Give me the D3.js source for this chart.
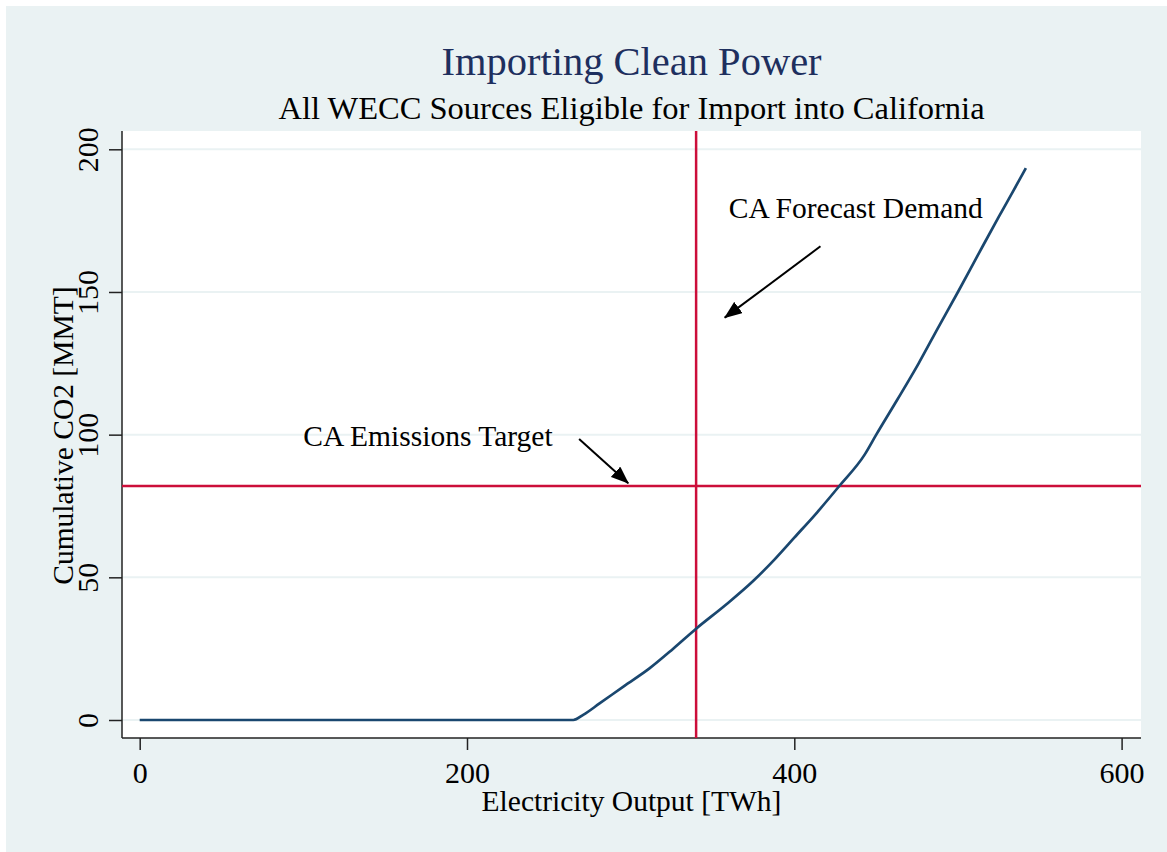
<!DOCTYPE html>
<html>
<head>
<meta charset="utf-8">
<script src="https://cdn.jsdelivr.net/npm/d3@7"></script>
<style>
  body { margin: 0; background: #fff; }
  text { font-family: "Liberation Serif", "Times New Roman", serif; }
</style>
</head>
<body>
<svg id="chart" width="1167" height="852"></svg>
<script>
// supply curve
const outputTWh = [0, 265, 271, 281, 296, 311.5, 326, 340, 358, 375, 388, 400, 414, 427.5, 443, 450, 463, 476, 488, 500, 513, 525, 534, 541.5];
const co2MMT    = [0, 0, 1.8, 5.8, 11.9, 18.1, 25, 32, 40.3, 48.8, 56.3, 63.9, 72.8, 82, 93, 99.9, 112.3, 125, 137.6, 150, 163.8, 176.4, 185.6, 193.4];

const xTicks = [0, 200, 400, 600];
const yTicks = [0, 50, 100, 150, 200];

const targetCO2 = 82;     // CA emissions target
const demandTWh = 340;    // CA forecast demand

// annotation text and arrows, in data units
const noteLabels = ['CA Forecast Demand', 'CA Emissions Target'];
const noteTextX  = [360, 100];
const noteTextY  = [176, 96];
const arrowFrom  = [[416, 166], [268.5, 98.5]];
const arrowTo    = [[357.5, 141], [298.5, 83]];

const W = 1167, H = 852;
const plot = { left: 122, right: 1141, top: 131, bottom: 738 };

const svg = d3.select('#chart');

// outer background
svg.append('rect')
    .attr('x', 6).attr('y', 6)
    .attr('width', W - 6).attr('height', H - 6)
    .attr('fill', '#eaf2f3');

// plot region
svg.append('rect')
    .attr('x', plot.left).attr('y', plot.top)
    .attr('width', plot.right - plot.left).attr('height', plot.bottom - plot.top)
    .attr('fill', '#fff');

const x = d3.scaleLinear().domain([0, 600]).range([139.7, 1121.6]);
const y = d3.scaleLinear().domain([0, 200]).range([720, 149.3]);

// horizontal grid
svg.append('g').selectAll('line')
    .data(yTicks)
    .enter().append('line')
    .attr('x1', plot.left).attr('x2', plot.right)
    .attr('y1', d => y(d)).attr('y2', d => y(d))
    .attr('stroke', '#eaf2f3')
    .attr('stroke-width', 2);

// y axis
const yAxis = svg.append('g')
    .attr('transform', `translate(${plot.left},0)`)
    .call(d3.axisLeft(y).tickValues(yTicks).tickSize(13).tickSizeOuter(0));
yAxis.select('.domain').remove();
yAxis.selectAll('line').attr('stroke', '#222').attr('stroke-width', 1.5);
yAxis.selectAll('text')
    .attr('x', null).attr('dy', null)
    .attr('text-anchor', 'middle')
    .attr('transform', 'translate(-24,0) rotate(-90)')
    .attr('font-size', 30)
    .attr('fill', '#000');

// x axis
const xAxis = svg.append('g')
    .attr('transform', `translate(0,${plot.bottom})`)
    .call(d3.axisBottom(x).tickValues(xTicks).tickSize(12).tickSizeOuter(0));
xAxis.select('.domain').remove();
xAxis.selectAll('line').attr('stroke', '#222').attr('stroke-width', 1.5);
xAxis.selectAll('text')
    .attr('y', 45).attr('dy', null)
    .attr('font-size', 30)
    .attr('fill', '#000');

// axis lines
svg.append('line')
    .attr('x1', plot.left).attr('x2', plot.left)
    .attr('y1', plot.top).attr('y2', plot.bottom)
    .attr('stroke', '#222').attr('stroke-width', 1.5);
svg.append('line')
    .attr('x1', plot.left).attr('x2', plot.right)
    .attr('y1', plot.bottom).attr('y2', plot.bottom)
    .attr('stroke', '#222').attr('stroke-width', 1.5);

// reference lines
svg.append('line')
    .attr('x1', plot.left).attr('x2', plot.right)
    .attr('y1', y(targetCO2)).attr('y2', y(targetCO2))
    .attr('stroke', '#cc0e3a').attr('stroke-width', 2.5);
svg.append('line')
    .attr('x1', x(demandTWh)).attr('x2', x(demandTWh))
    .attr('y1', plot.top).attr('y2', plot.bottom)
    .attr('stroke', '#cc0e3a').attr('stroke-width', 2.5);

// curve
const pts = outputTWh.map((d, i) => [d, co2MMT[i]]);
const line = d3.line()
    .x(d => x(d[0]))
    .y(d => y(d[1]))
    .curve(d3.curveMonotoneX);
svg.append('path')
    .datum(pts)
    .attr('d', line)
    .attr('fill', 'none')
    .attr('stroke', '#1a476f')
    .attr('stroke-width', 2.7)
    .attr('stroke-linejoin', 'round');

// arrows
svg.append('defs').append('marker')
    .attr('id', 'head')
    .attr('viewBox', '0 -7 18 14')
    .attr('refX', 17).attr('refY', 0)
    .attr('markerUnits', 'userSpaceOnUse')
    .attr('markerWidth', 18).attr('markerHeight', 14)
    .attr('orient', 'auto')
    .append('path')
    .attr('d', 'M0,-7L18,0L0,7Z')
    .attr('fill', '#000');

svg.append('g').selectAll('line')
    .data(arrowFrom)
    .enter().append('line')
    .attr('x1', d => x(d[0])).attr('y1', d => y(d[1]))
    .attr('x2', (d, i) => x(arrowTo[i][0])).attr('y2', (d, i) => y(arrowTo[i][1]))
    .attr('stroke', '#000').attr('stroke-width', 2)
    .attr('marker-end', 'url(#head)');

svg.append('g').selectAll('text')
    .data(noteLabels)
    .enter().append('text')
    .attr('x', (d, i) => x(noteTextX[i]))
    .attr('y', (d, i) => y(noteTextY[i]))
    .attr('font-size', 29.5)
    .attr('fill', '#000')
    .text(d => d);

// titles
const cx = (plot.left + plot.right) / 2;
svg.append('text')
    .attr('x', cx).attr('y', 75)
    .attr('text-anchor', 'middle')
    .attr('font-size', 40.5)
    .attr('fill', '#1e2f5e')
    .text('Importing Clean Power');
svg.append('text')
    .attr('x', cx).attr('y', 119)
    .attr('text-anchor', 'middle')
    .attr('font-size', 32.5)
    .attr('fill', '#000')
    .text('All WECC Sources Eligible for Import into California');

svg.append('text')
    .attr('x', cx).attr('y', 811)
    .attr('text-anchor', 'middle')
    .attr('font-size', 29.5)
    .attr('fill', '#000')
    .text('Electricity Output [TWh]');
svg.append('text')
    .attr('transform', `translate(73,${(y(0) + y(200)) / 2 + 1}) rotate(-90)`)
    .attr('text-anchor', 'middle')
    .attr('font-size', 29.5)
    .attr('fill', '#000')
    .text('Cumulative CO2 [MMT]');
</script>
</body>
</html>
